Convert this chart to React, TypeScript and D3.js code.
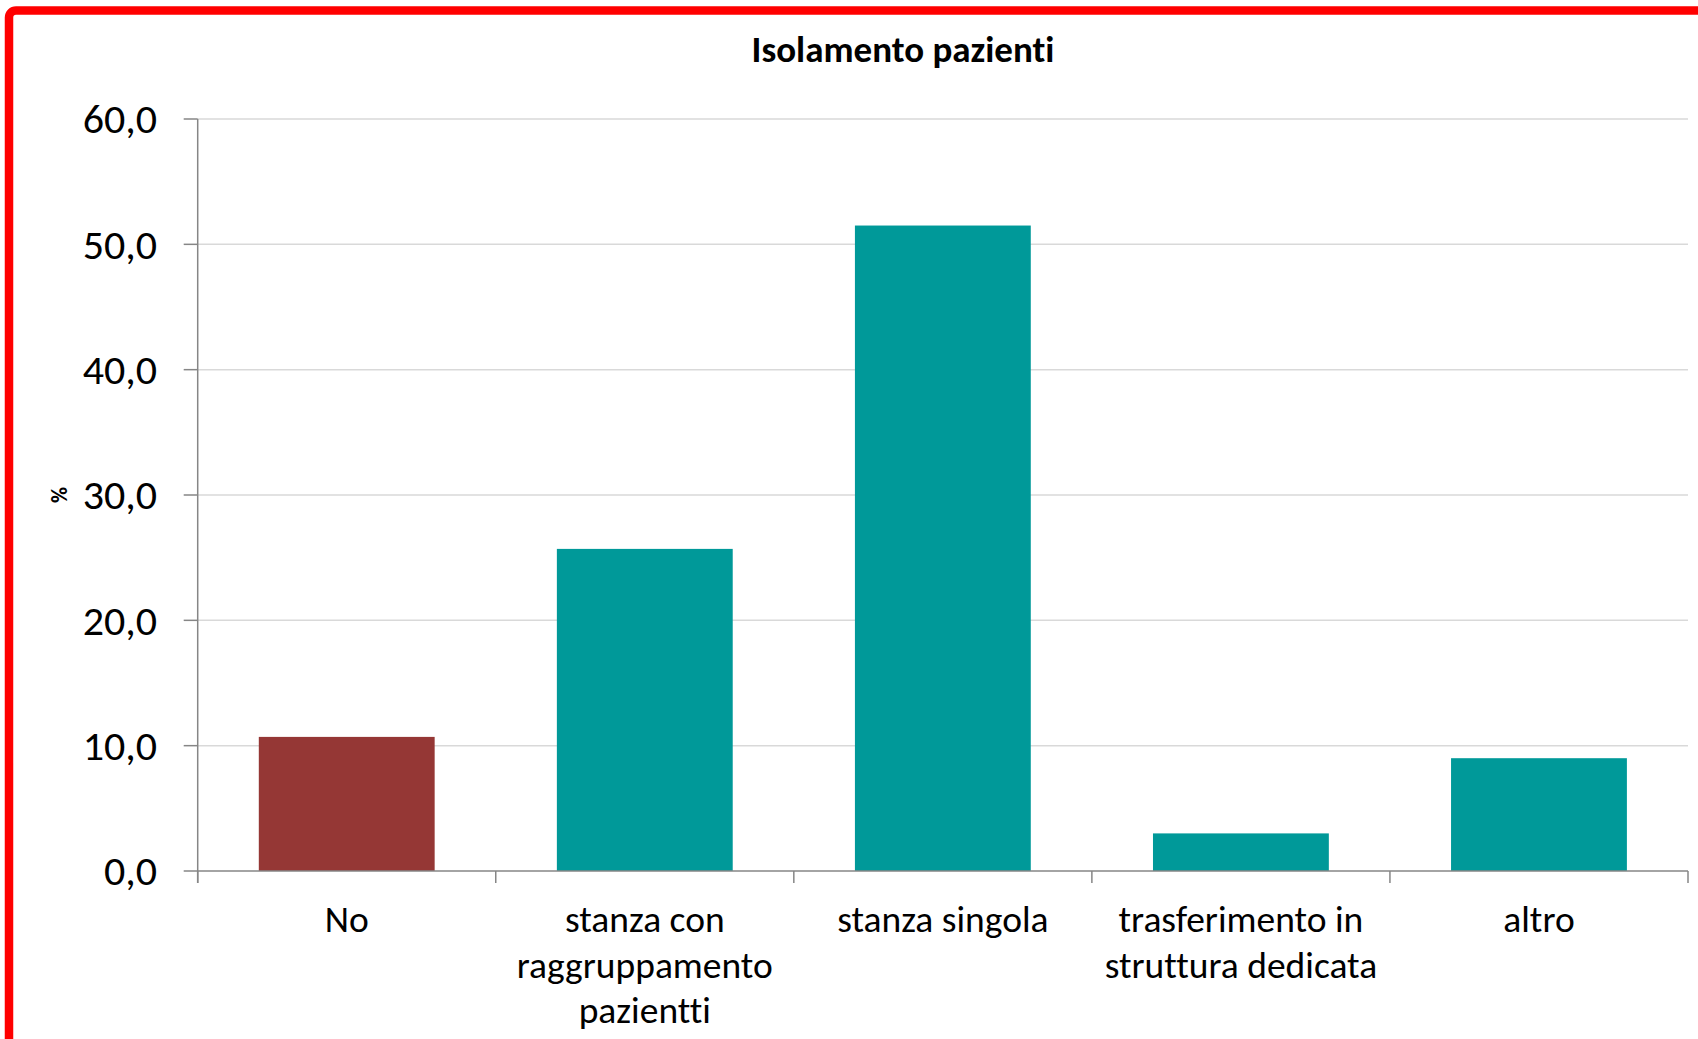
import React from "react";
import * as d3 from "d3";

const title = "Isolamento pazienti";
const yLabel = "%";
const categories = ["No", "stanza con raggruppamento pazientti", "stanza singola", "trasferimento in struttura dedicata", "altro"];
const categoryLines = [["No"], ["stanza con", "raggruppamento", "pazientti"], ["stanza singola"], ["trasferimento in", "struttura dedicata"], ["altro"]];
const values = [10.7, 25.7, 51.5, 3.0, 9.0];
const barColors = ["#953735", "#009999", "#009999", "#009999", "#009999"];
const yTicks = [0, 10, 20, 30, 40, 50, 60];

const W = 1698;
const H = 1039;
const plot = { left: 197.7, right: 1688, top: 119, bottom: 871 };
const FONT = "Carlito, Calibri, Lato, sans-serif";
const noLig = { fontVariantLigatures: "none" as const, fontFeatureSettings: "'liga' 0, 'clig' 0" };

export default function App() {
  const x = d3.scaleBand<string>().domain(categories).range([plot.left, plot.right]).paddingInner(0.41).paddingOuter(0.205);
  const xb = d3.scaleBand<string>().domain(categories).range([plot.left, plot.right]).padding(0);
  const y = d3.scaleLinear().domain([0, 60]).range([plot.bottom, plot.top]);
  const fmt = (v: number) => d3.format(".1f")(v).replace(".", ",");
  const boundaries = categories.map((c) => xb(c) as number).concat([plot.right]);

  return (
    <svg width={W} height={H} style={{ position: "absolute", left: 0, top: 0, display: "block", background: "#fff" }}>
      <rect x={0} y={0} width={W} height={H} fill="#fff" />
      {yTicks.filter((t) => t > 0).map((t) => (
        <line key={"g" + t} x1={plot.left} x2={plot.right} y1={y(t)} y2={y(t)} stroke="#d9d9d9" strokeWidth={1.5} />
      ))}
      {categories.map((c, i) => (
        <rect key={c} x={x(c)} y={y(values[i])} width={x.bandwidth()} height={y(0) - y(values[i])} fill={barColors[i]} />
      ))}
      <line x1={plot.left} x2={plot.left} y1={plot.top} y2={plot.bottom + 12} stroke="#868686" strokeWidth={1.5} />
      {yTicks.map((t) => (
        <g key={"t" + t}>
          <line x1={plot.left - 14} x2={plot.left} y1={y(t)} y2={y(t)} stroke="#868686" strokeWidth={1.5} />
          <text x={157} y={y(t)} dy="0.34em" textAnchor="end" fontFamily={FONT} fontSize={42} fill="#000" style={noLig}>{fmt(t)}</text>
        </g>
      ))}
      <line x1={plot.left} x2={plot.right} y1={plot.bottom} y2={plot.bottom} stroke="#868686" strokeWidth={1.5} />
      {boundaries.map((b, i) => (
        <line key={"xb" + i} x1={b} x2={b} y1={plot.bottom} y2={plot.bottom + 12} stroke="#868686" strokeWidth={1.5} />
      ))}
      {categories.map((c, i) => (
        <text key={"l" + c} x={(xb(c) as number) + xb.bandwidth() / 2} y={932} textAnchor="middle" fontFamily={FONT} fontSize={37.5} fill="#000" style={noLig}>
          {categoryLines[i].map((ln, j) => (
            <tspan key={j} x={(xb(c) as number) + xb.bandwidth() / 2} y={932 + j * 45.5}>{ln}</tspan>
          ))}
        </text>
      ))}
      <text x={903} y={62} textAnchor="middle" fontFamily={FONT} fontWeight="bold" fontSize={37} fill="#000" style={noLig}>{title}</text>
      <text transform="translate(67,495) rotate(-90)" textAnchor="middle" fontFamily={FONT} fontWeight="bold" fontSize={22} fill="#000">{yLabel}</text>
      <rect x={9} y={10.5} width={W + 20} height={H + 20} rx={7} fill="none" stroke="#ff0000" strokeWidth={8.5} />
    </svg>
  );
}
